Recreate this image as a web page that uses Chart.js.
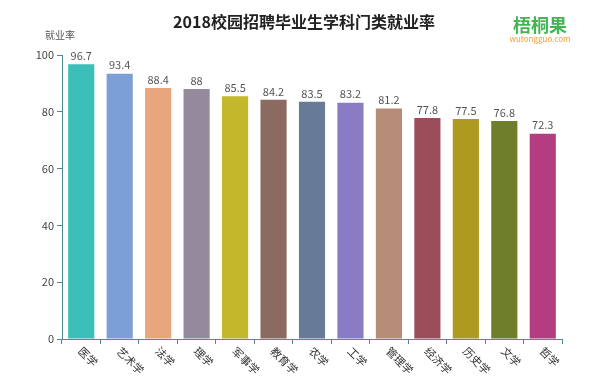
<!DOCTYPE html>
<html>
<head>
<meta charset="utf-8">
<script src="https://cdn.jsdelivr.net/npm/chart.js@4/dist/chart.umd.min.js"></script>
<style>
  html, body { margin: 0; padding: 0; background: #fff; }
  #wrap { width: 600px; height: 392px; }
</style>
</head>
<body>
<div id="wrap"><canvas id="c" width="600" height="392"></canvas></div>
<script>
const categories = ["医学", "艺术学", "法学", "理学", "军事学", "教育学", "农学", "工学", "管理学", "经济学", "历史学", "文学", "哲学"];
const rates = [96.7, 93.4, 88.4, 88, 85.5, 84.2, 83.5, 83.2, 81.2, 77.8, 77.5, 76.8, 72.3];
const barColors = ["#3dbfb9", "#7c9fd7", "#e9a57b", "#948a9b", "#c3b82b", "#8b6a5f", "#687b96", "#8b7bc4", "#b68c77", "#9b4d5a", "#ae9a20", "#6f7e2b", "#b43c80"];
const yTicks = [0, 20, 40, 60, 80, 100];

const FONT = '"Noto Sans CJK SC", "Noto Sans", sans-serif';
const axisColor = "#4f8a90";

// title, logo, y-axis name, value labels and rotated category labels
const decor = {
    id: "decor",
    afterDatasetsDraw(chart) {
        const ctx = chart.ctx;
        const x = chart.scales.x, y = chart.scales.y;
        ctx.save();
        ctx.fillStyle = "#222";
        ctx.font = "bold 16px " + FONT;
        ctx.textAlign = "center";
        ctx.textBaseline = "middle";
        ctx.fillText("2018校园招聘毕业生学科门类就业率", 304, 22);

        ctx.fillStyle = "#45b553";
        ctx.font = "bold 18px " + FONT;
        ctx.fillText("梧桐果", 540, 25);
        ctx.fillStyle = "#f29b38";
        ctx.font = "8px " + FONT;
        ctx.fillText("wutongguo.com", 540, 39);

        ctx.fillStyle = "#555";
        ctx.font = "10px " + FONT;
        ctx.fillText("就业率", 60, 35);

        ctx.font = "11px " + FONT;
        chart.getDatasetMeta(0).data.forEach((bar, i) => {
            ctx.fillStyle = "#555";
            ctx.textBaseline = "bottom";
            ctx.fillText(String(rates[i]), bar.x, bar.y - 3);
        });

        ctx.fillStyle = "#333";
        ctx.textAlign = "left";
        ctx.textBaseline = "middle";
        categories.forEach((c, i) => {
            const px = x.getPixelForValue(i);
            ctx.save();
            ctx.translate(px - 1, y.bottom + 10);
            ctx.rotate(Math.PI / 4);
            ctx.fillText(c, 0, 0);
            ctx.restore();
        });
        ctx.restore();
    }
};

new Chart(document.getElementById("c").getContext("2d"), {
    type: "bar",
    data: {
        labels: categories,
        datasets: [{
            data: rates,
            backgroundColor: barColors,
            borderWidth: 0,
            barPercentage: 0.68,
            categoryPercentage: 1
        }]
    },
    options: {
        responsive: false,
        animation: false,
        layout: { padding: { top: 55, right: 38, left: 0, bottom: 0 } },
        plugins: { legend: { display: false }, tooltip: { enabled: false } },
        scales: {
            x: {
                offset: true,
                grid: { offset: true, drawOnChartArea: false, drawTicks: true, tickLength: 5, color: axisColor },
                border: { color: axisColor, width: 1 },
                ticks: { display: false },
                afterFit(s) { s.height = 53; }
            },
            y: {
                min: 0,
                max: 100,
                afterBuildTicks(s) { s.ticks = yTicks.map(v => ({ value: v })); },
                grid: { drawOnChartArea: false, drawTicks: true, tickLength: 5, color: axisColor },
                border: { color: axisColor, width: 1 },
                ticks: { color: "#444", font: { size: 11, family: FONT }, padding: 3 },
                afterFit(s) { s.width = 62; }
            }
        }
    },
    plugins: [decor]
});
</script>
</body>
</html>
